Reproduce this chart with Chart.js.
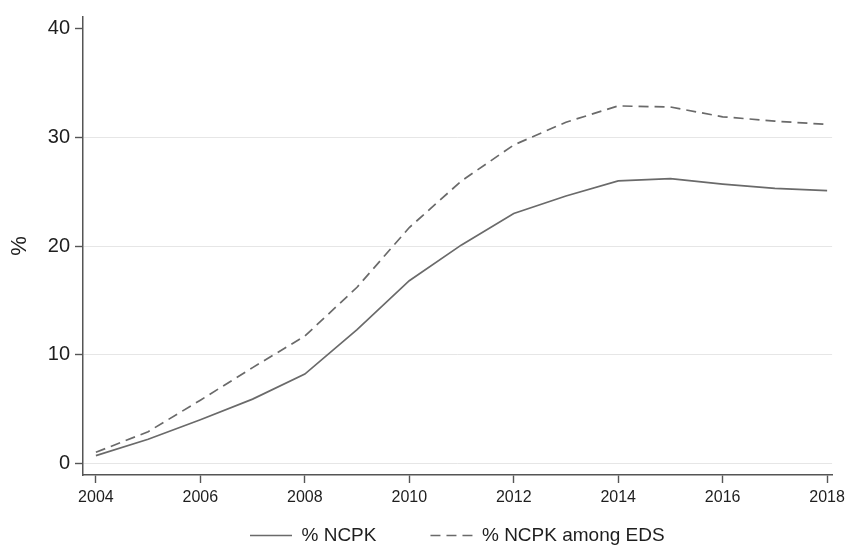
<!DOCTYPE html>
<html>
<head>
<meta charset="utf-8">
<script src="https://cdn.jsdelivr.net/npm/chart.js@4.4.1/dist/chart.umd.min.js"></script>
<style>
  html, body { margin: 0; padding: 0; background: #fff; }
</style>
</head>
<body>
<canvas id="chart" width="850" height="547"></canvas>
<script>
// values
const years = [2004, 2005, 2006, 2007, 2008, 2009, 2010, 2011, 2012, 2013, 2014, 2015, 2016, 2017, 2018];
const ncpk = [0.7, 2.2, 4.0, 5.9, 8.2, 12.3, 16.8, 20.1, 23.0, 24.6, 26.0, 26.2, 25.7, 25.3, 25.1];
const ncpkEds = [1.0, 2.9, 5.8, 8.8, 11.7, 16.2, 21.7, 26.0, 29.3, 31.4, 32.9, 32.8, 31.9, 31.5, 31.2];
const xTicks = [2004, 2006, 2008, 2010, 2012, 2014, 2016, 2018];
const yTicks = [0, 10, 20, 30, 40];
const seriesLabels = ['% NCPK', '% NCPK among EDS'];

const FONT = '"Liberation Sans", Arial, Helvetica, sans-serif';
const LINE = '#6a6a6a';
const AXIS = '#555555';
const TEXT = '#1e1e1e';

// put the legend where the reference has it (first item left edge, text centre line)
const LEGEND_X = 250;
const LEGEND_Y = 526;

const legendNudge = {
  id: 'legendNudge',
  afterLayout(chart) {
    const lg = chart.legend;
    if (!lg || !lg.lineWidths) return;
    const pad = lg.options.labels.padding;
    const startX = (lg.left + pad + lg.right - lg.lineWidths[0]) / 2;
    const dx = LEGEND_X - startX;
    lg.left += dx;
    lg.right += dx;
    lg.top = LEGEND_Y - pad;
  }
};

const toPoints = vals => years.map((y, i) => ({ x: y, y: vals[i] }));

new Chart(document.getElementById('chart').getContext('2d'), {
  type: 'line',
  data: {
    datasets: [{
      label: seriesLabels[0],
      data: toPoints(ncpk),
      borderColor: LINE,
      backgroundColor: LINE,
      borderWidth: 1.7,
      pointRadius: 0,
      tension: 0
    }, {
      label: seriesLabels[1],
      data: toPoints(ncpkEds),
      borderColor: LINE,
      backgroundColor: LINE,
      borderWidth: 1.7,
      borderDash: [10, 6],
      pointRadius: 0,
      tension: 0
    }]
  },
  options: {
    responsive: false,
    animation: false,
    layout: { padding: { top: 12, right: 12, left: 0, bottom: 0 } },
    plugins: {
      tooltip: { enabled: false },
      legend: {
        position: 'bottom',
        maxHeight: 30,
        labels: {
          usePointStyle: true,
          pointStyle: 'line',
          pointStyleWidth: 42,
          padding: 54,
          color: TEXT,
          font: { family: FONT, size: 19 },
          generateLabels: chart => {
            const items = Chart.defaults.plugins.legend.labels.generateLabels(chart);
            items.forEach(it => {
              const ds = chart.data.datasets[it.datasetIndex];
              it.lineDash = ds.borderDash || [];
              it.lineWidth = ds.borderWidth;
              it.strokeStyle = ds.borderColor;
            });
            return items;
          }
        }
      }
    },
    scales: {
      x: {
        type: 'linear',
        min: 2003.753,
        max: 2018.095,
        afterBuildTicks: s => { s.ticks = xTicks.map(v => ({ value: v })); },
        afterFit: s => { s.height = 42; },
        ticks: {
          callback: v => String(v),
          color: TEXT,
          padding: 5,
          maxRotation: 0,
          font: { family: FONT, size: 16 }
        },
        grid: {
          drawOnChartArea: false,
          tickLength: 8,
          tickColor: AXIS,
          tickWidth: 1.4
        },
        border: { color: AXIS, width: 1.5 }
      },
      y: {
        min: -1.09,
        max: 41.09,
        afterBuildTicks: s => { s.ticks = yTicks.map(v => ({ value: v })); },
        afterFit: s => { s.width = 83; },
        ticks: {
          color: TEXT,
          padding: 5,
          font: { family: FONT, size: 20 }
        },
        grid: {
          color: ctx => (ctx.tick && ctx.tick.value === 40) ? 'rgba(0,0,0,0)' : '#e6e6e6',
          lineWidth: 1,
          tickLength: 8,
          tickColor: AXIS,
          tickWidth: 1.4
        },
        border: { color: AXIS, width: 1.5 },
        title: {
          display: true,
          text: '%',
          color: TEXT,
          padding: { top: 7, bottom: 0 },
          font: { family: FONT, size: 22 }
        }
      }
    }
  },
  plugins: [legendNudge]
});
</script>
</body>
</html>
